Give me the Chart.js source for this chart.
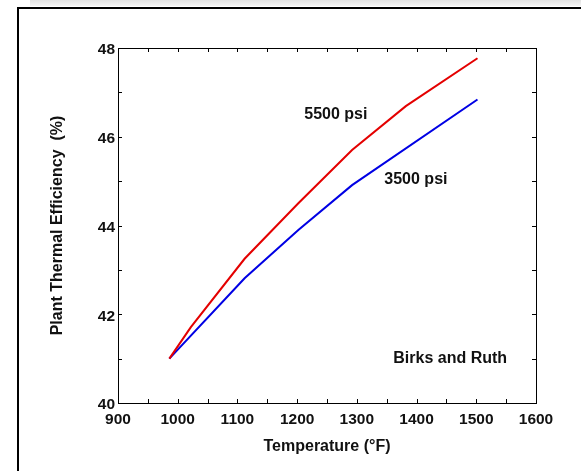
<!DOCTYPE html>
<html>
<head>
<meta charset="utf-8">
<script src="https://cdn.jsdelivr.net/npm/chart.js@4.4.1/dist/chart.umd.min.js"></script>
<style>
  html, body { margin: 0; padding: 0; background: #fff; }
  canvas { display: block; }
</style>
</head>
<body>
<canvas id="c" width="581" height="471"></canvas>
<script>
// ---- data ----
const temperatures = [986, 1022, 1112, 1202, 1292, 1382, 1502];
const eff5500 = [41.0, 41.71, 43.25, 44.5, 45.7, 46.69, 47.77];
const temps3500 = [986, 1112, 1202, 1292, 1502];
const eff3500 = [41.0, 42.81, 43.9, 44.91, 46.84];
const xTickRange = [900, 1600];
const yTickRange = [40, 48];
const xTitle = 'Temperature (°F)';
const yTitle = 'Plant Thermal Efficiency  (%)';
const annotations = [
  { text: '5500 psi', x: 1212, y: 46.5 },
  { text: '3500 psi', x: 1346, y: 45.03 },
  { text: 'Birks and Ruth', x: 1361, y: 41.01 }
];

const FONT = "'Liberation Sans', Arial, sans-serif";

const framePlugin = {
  id: 'frame',
  beforeDraw(chart) {
    const ctx = chart.ctx;
    ctx.save();
    ctx.fillStyle = '#fff';
    ctx.fillRect(0, 0, chart.width, chart.height);
    const g = ctx.createLinearGradient(0, 0, 0, 7);
    g.addColorStop(0, '#e2e2e2');
    g.addColorStop(1, '#f8f8f8');
    ctx.fillStyle = g;
    ctx.fillRect(30, 0, chart.width - 30, 6);
    ctx.strokeStyle = '#000';
    ctx.lineWidth = 2;
    ctx.beginPath();
    ctx.moveTo(18, chart.height + 5);
    ctx.lineTo(18, 8);
    ctx.lineTo(chart.width + 5, 8);
    ctx.stroke();
    ctx.restore();
  },
  afterDraw(chart) {
    const ctx = chart.ctx;
    const xs = chart.scales.x, ys = chart.scales.y;
    const a = chart.chartArea;
    ctx.save();
    ctx.strokeStyle = '#000';
    ctx.lineWidth = 1;
    ctx.strokeRect(Math.round(a.left) + 0.5, Math.round(a.top) + 0.5,
                   Math.round(a.right - a.left), Math.round(a.bottom - a.top));
    ctx.beginPath();
    const tl = 4;
    for (let v = xTickRange[0] + 50; v < xTickRange[1]; v += 50) {
      const px = Math.round(xs.getPixelForValue(v)) + 0.5;
      ctx.moveTo(px, a.bottom); ctx.lineTo(px, a.bottom - tl);
      ctx.moveTo(px, a.top); ctx.lineTo(px, a.top + tl);
    }
    for (let v = yTickRange[0] + 1; v < yTickRange[1]; v += 1) {
      const py = Math.round(ys.getPixelForValue(v)) + 0.5;
      ctx.moveTo(a.left, py); ctx.lineTo(a.left + tl, py);
      ctx.moveTo(a.right, py); ctx.lineTo(a.right - tl, py);
    }
    ctx.stroke();
    ctx.fillStyle = '#111';
    ctx.font = 'bold 16px ' + FONT;
    ctx.textAlign = 'left';
    ctx.textBaseline = 'middle';
    annotations.forEach(t => {
      ctx.fillText(t.text, xs.getPixelForValue(t.x), ys.getPixelForValue(t.y));
    });
    ctx.restore();
  }
};

new Chart(document.getElementById('c'), {
  type: 'line',
  data: {
    datasets: [
      {
        label: '5500 psi',
        data: temperatures.map((t, i) => ({ x: t, y: eff5500[i] })),
        borderColor: 'rgb(228,0,0)',
        borderWidth: 2,
        pointRadius: 0,
        tension: 0,
        fill: false
      },
      {
        label: '3500 psi',
        data: temps3500.map((t, i) => ({ x: t, y: eff3500[i] })),
        borderColor: 'rgb(0,0,228)',
        borderWidth: 2,
        pointRadius: 0,
        tension: 0,
        fill: false
      }
    ]
  },
  options: {
    responsive: false,
    devicePixelRatio: 1,
    animation: false,
    layout: { padding: { left: 0, top: 48, right: 45, bottom: 0 } },
    plugins: { legend: { display: false }, tooltip: { enabled: false } },
    scales: {
      x: {
        type: 'linear',
        min: xTickRange[0], max: xTickRange[1],
        grid: { display: false, drawTicks: false },
        border: { display: false },
        ticks: { stepSize: 100, padding: 7, color: '#111', maxRotation: 0,
                 callback: v => String(v),
                 font: { family: FONT, size: 15.5, weight: 'bold' } },
        title: { display: true, text: xTitle, color: '#111',
                 font: { family: FONT, size: 16, weight: 'bold' },
                 padding: { top: 0, bottom: 15 } },
        afterFit(s) { s.height = 68; }
      },
      y: {
        type: 'linear',
        min: yTickRange[0], max: yTickRange[1],
        grid: { display: false, drawTicks: false },
        border: { display: false },
        ticks: { stepSize: 2, padding: 3, color: '#111', labelOffset: 2,
                 callback: v => String(v),
                 font: { family: FONT, size: 15.5, weight: 'bold' } },
        title: { display: true, text: yTitle, color: '#111',
                 font: { family: FONT, size: 16, weight: 'bold' },
                 padding: { top: 48, bottom: 0 } },
        afterFit(s) { s.width = 118; }
      }
    }
  },
  plugins: [framePlugin]
});
</script>
</body>
</html>
